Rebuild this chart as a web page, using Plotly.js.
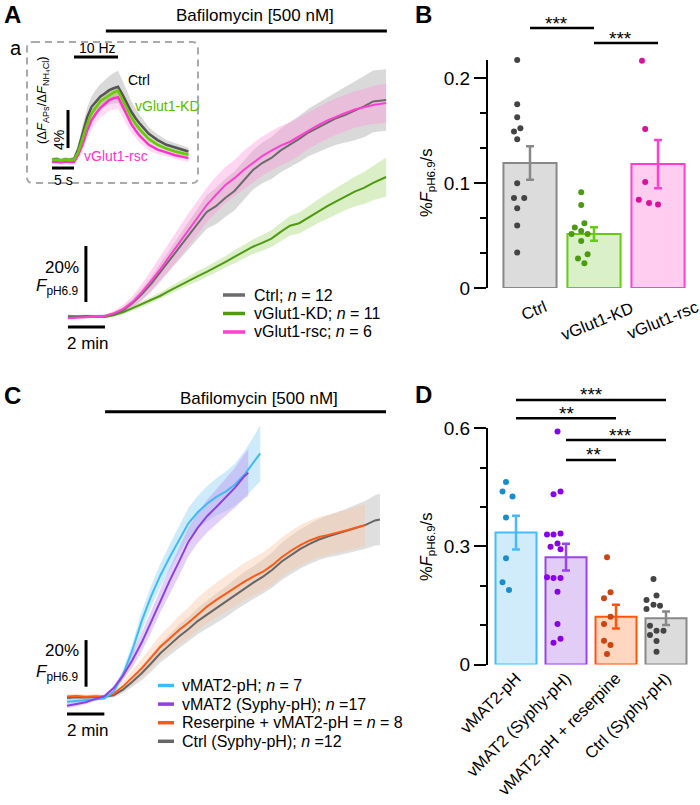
<!DOCTYPE html>
<html>
<head>
<meta charset="utf-8">
<script src="https://cdn.plot.ly/plotly-3.0.1.min.js"></script>
<style>
  body { margin: 0; background: #fff; }
  #fig { width: 700px; height: 805px; }
</style>
</head>
<body>
<div id="fig"></div>
<script>
// ---------- Panel A: bafilomycin traces (min, % F pH6.9) ----------
const tA = [0,0.5,1,1.5,2,2.5,3,3.5,4,4.5,5,5.5,6,6.5,7,7.5,8,8.5,9,9.5,10,10.5,11,11.5,12,12.5,13,13.5,14,14.5,15,15.5,16,16.5,17.2];
const ctrlA = [0,0.3,0.4,0.2,0.4,1.1,2.5,5,8.2,11.8,16.1,20.4,24.6,28.9,33.2,37.5,39.6,42.5,45,48.9,52.5,55,56.8,59.5,61.4,63.6,65.9,67.6,69.3,71,72.2,73.6,75.2,77,77.5];
const ctrlAsem = [0.5,0.5,0.5,0.5,0.5,0.7,1,1.5,2,2.5,3,3.8,4.5,5,5.5,6,6.5,6.8,7,7,7,7.2,7.5,7.8,8,8.2,8.5,8.8,9,9.5,10,10.5,11,11,11];
const kdA = [0.4,0.1,0,0.2,0,0.7,1.8,3.2,4.6,6.1,7.6,9.4,11.2,12.9,14.5,16.1,17.8,19.6,21.5,23.4,25.1,26.5,28,30.4,32.6,33.5,35.6,37.7,39.5,41.3,43.2,44.8,46.1,47.9,50];
const kdAsem = [0.5,0.5,0.5,0.5,0.5,0.6,0.8,0.9,1,1.1,1.2,1.4,1.5,1.6,1.8,1.9,2,2.1,2.3,2.5,2.6,2.8,3,3.2,3.5,3.7,4,4.2,4.5,4.8,5,5.3,5.7,6.2,7];
const rscA = [-0.4,-0.2,0,0.2,0.4,1.4,2.9,5.4,8.9,12.9,17.1,21.8,26.4,31.1,35.4,40,43.6,47.1,49.6,52.5,55,57.5,59.4,61.2,62.6,64.6,66.6,68.4,70.1,71.6,72.9,74.1,74.9,75.7,76.4];
const rscAsem = [0.5,0.5,0.5,0.5,0.5,0.8,1.5,2.2,3,3.8,4.5,5,5.5,5.8,6,6.2,6.5,6.5,6.5,6.8,7,7,7,7,7,6.8,6.5,6.5,6.5,6.5,6.5,6.5,6.5,6.8,7];
const legendA = ['Ctrl; <i>n</i> = 12', 'vGlut1-KD; <i>n</i> = 11', 'vGlut1-rsc; <i>n</i> = 6'];

// inset a: 10 Hz stimulation (s, %)
const tIn = [0,1,2,3,4,5,6,7,8,9,10,11,12,13,14,15,16,17,18,19,20,22,24,26,28,31];
const ctrlIn = [0,0.1,-0.05,0.05,0,0.1,1.2,3,4.5,5.6,6.2,6.7,7,7.35,7.55,7.7,6.9,6,5.1,4.4,3.8,2.75,2.1,1.6,1.3,0.9];
const ctrlInSem = [0.25,0.25,0.25,0.25,0.25,0.25,0.5,0.8,1,1.1,1.2,1.3,1.4,1.5,1.6,1.7,1.5,1.3,1.1,1,0.9,0.7,0.6,0.5,0.5,0.4];
const kdIn = [0,0.05,-0.05,0.05,0,0.05,0.9,2.4,3.8,4.9,5.6,6.2,6.5,6.8,7.1,7.3,6.4,5.4,4.5,3.8,3.2,2.2,1.6,1.2,0.9,0.55];
const kdInSem = [0.15,0.15,0.15,0.15,0.15,0.15,0.2,0.25,0.3,0.35,0.4,0.4,0.45,0.45,0.5,0.5,0.45,0.4,0.35,0.3,0.3,0.25,0.2,0.2,0.2,0.2];
const rscIn = [-0.2,-0.15,-0.25,-0.15,-0.2,-0.2,0.6,1.7,3.1,4.2,4.9,5.5,5.9,6.3,6.5,6.6,5.7,4.7,3.8,3.1,2.5,1.6,1.1,0.8,0.5,0.2];
const rscInSem = [0.3,0.3,0.3,0.3,0.3,0.3,0.5,0.7,0.8,0.9,1,1,1.1,1.1,1.2,1.2,1.1,1,0.9,0.8,0.7,0.6,0.5,0.4,0.4,0.4];

// ---------- Panel B ----------
const bCats = ['Ctrl', 'vGlut1-KD', 'vGlut1-rsc'];
const bMeans = [0.119, 0.0514, 0.118];
const bSem = [0.016, 0.0065, 0.023];
const bCtrlPts = [0.217,0.175,0.1625,0.149,0.152,0.1416,0.0997,0.0857,0.0857,0.0759,0.0594,0.0337];
const bKdPts = [0.0911,0.079,0.0616,0.0575,0.0543,0.0514,0.0514,0.0448,0.0322,0.028,0.0235];
const bRscPts = [0.2165,0.1514,0.101,0.084,0.081,0.0794];

// ---------- Panel C ----------
const tBlue = [0,0.5,1,1.5,2,2.5,3,3.5,4,4.5,5,5.5,6,6.5,7,7.5,8,8.5,9,9.5,10,10.35];
const vmatC = [-1.6,-1.2,-0.9,-0.6,-0.2,2.8,10,20.5,33,43.6,52.6,60.4,68,75,79.7,83.4,86.3,88.6,91.6,95.8,101.2,105];
const vmatCsem = [0.8,0.8,0.7,0.6,0.5,1,2,3,4,4.5,5,5.5,6,6.5,7,7.5,8,8.5,9,10,11,12];
const tPurple = [0,0.5,1,1.5,2,2.5,3,3.5,4,4.5,5,5.5,6,6.5,7,7.5,8,8.5,9,9.5,9.71];
const syphyC = [-3.3,-2.6,-1.8,-0.5,0.8,4.3,9.6,16.2,23.8,32.6,41.8,50.4,58.5,67,73,78,82,86.2,90.3,95.2,96.7];
const syphyCsem = [1,1,0.9,0.8,0.6,1,2,3,4,4.5,5,5.5,6,6.2,6.5,7,7.5,8,8.5,9.5,10];
const tOrange = [0,0.5,1,1.5,2,2.5,3,3.5,4,4.5,5,5.5,6,6.5,7,7.5,8,8.5,9,9.5,10,10.5,11,11.5,12,12.5,13,13.5,14,14.5,15,15.5,15.95];
const reserpC = [0.6,0.9,0.5,0.8,0.6,1.8,5,8.7,12.7,17.3,22,25.5,29.2,32.3,36,39.3,42.1,44.8,47.3,49.9,52.2,54.2,57,60.4,63.2,65.6,67.6,69.1,70,70.9,72,73.2,74.2];
const reserpCsem = [1,1,1,0.9,0.8,1.2,2,3,4,4.6,5,5.5,6,6.5,7,7.2,7.5,7.6,7.8,8,8,8.2,8.4,8.5,8.5,8.6,8.6,8.6,8.6,8.6,8.8,8.8,9];
const tGrayC = [0,0.5,1,1.5,2,2.5,3,3.5,4,4.5,5,5.5,6,6.5,7,7.5,8,8.5,9,9.5,10,10.5,11,11.5,12,12.5,13,13.5,14,14.5,15,15.5,16,16.5,16.76];
const ctrlC = [0,0.3,0.2,0.4,0.5,1.2,3.6,7,10.6,14.8,19.2,22.8,26.4,29.5,33,35.8,38.6,41.2,44.3,47.1,49.6,52.1,55,58.6,61.4,64,66.1,68,69.4,70.5,71.7,73,74.3,76.2,76.6];
const ctrlCsem = [1,1,0.9,0.8,0.6,1,1.5,2.2,3,3.5,4,4.5,5,5.3,5.6,6,6.2,6.5,6.8,7,7,7.3,7.6,8,8.2,8.4,8.6,8.8,9,9.3,9.6,10,10.3,10.8,11];
const legendC = ['vMAT2-pH; <i>n</i> = 7', 'vMAT2 (Syphy-pH); <i>n</i> =17',
                 'Reserpine + vMAT2-pH = <i>n</i> = 8', 'Ctrl (Syphy-pH); <i>n</i> =12'];

// ---------- Panel D ----------
const dCats = ['vMAT2-pH', 'vMAT2 (Syphy-pH)', 'vMAT2-pH + reserpine', 'Ctrl (Syphy-pH)'];
const dMeans = [0.335, 0.2726, 0.1216, 0.1174];
const dSem = [0.043, 0.034, 0.03, 0.017];
const dVmatPts = [0.4633,0.4394,0.4267,0.3733,0.27,0.209,0.1894];
const dSyphyPts = [0.592,0.4327,0.4394,0.33,0.33,0.3326,0.2988,0.3071,0.2929,0.2217,0.22,0.22,0.185,0.103,0.0657,0.0555];
const dReserpPts = [0.2726,0.1836,0.168,0.1216,0.103,0.0605,0.0496,0.0267];
const dCtrlPts = [0.2174,0.175,0.164,0.152,0.1495,0.141,0.0987,0.086,0.086,0.075,0.0597,0.0326];

// horizontal spread of the dots (category units), kept apart from the values
const bCtrlJit = [0,0,0,-0.05,0.05,0,0,-0.05,0.11,0,0,0];
const bKdJit = [0,0,0.05,-0.1,0,-0.15,0.1,0,0.1,-0.05,0.05];
const bRscJit = [-0.05,0,0,-0.1,0.06,0.2];
const dVmatJit = [0,-0.07,0.13,0,0,-0.07,0.06];
const dSyphyJit = [0.03,-0.05,0.09,-0.18,-0.05,0.09,-0.11,0.03,0.09,-0.18,-0.05,0.09,0.03,0.03,0.09,-0.05];
const dReserpJit = [0.02,0.09,-0.04,0.09,-0.04,-0.04,0.09,0.02];
const dCtrlJit = [-0.05,0.01,-0.19,-0.05,0.08,-0.19,-0.12,0.01,0.15,-0.12,0.01,0.01];

// ---------- helpers ----------
const W = 700, H = 805;
const FONT = 'Liberation Sans, Arial, sans-serif';
function px(x) { return x / W; }
function py(y) { return 1 - y / H; }

function band(t, m, s, color, xa, ya) {
    let up = m.map((v, i) => v + s[i]);
    let lo = m.map((v, i) => v - s[i]).reverse();
    return {
        x: t.concat(t.slice().reverse()), y: up.concat(lo),
        mode: 'lines', fill: 'toself', fillcolor: color, line: {width: 0},
        hoverinfo: 'skip', showlegend: false, xaxis: xa, yaxis: ya
    };
}

function trace(t, m, color, w, xa, ya) {
    return {x: t, y: m, mode: 'lines', line: {color: color, width: w},
            showlegend: false, xaxis: xa, yaxis: ya};
}

function bar(i, mean, sem, fill, edge, width, xa, ya) {
    return {
        type: 'bar', x: [i], y: [mean], width: width,
        marker: {color: fill, line: {color: edge, width: 2}},
        error_y: {type: 'data', array: [sem], color: edge, thickness: 2.5, width: 4},
        showlegend: false, xaxis: xa, yaxis: ya
    };
}

function dots(i, vals, jit, color, xa, ya) {
    return {
        type: 'scatter', mode: 'markers',
        x: vals.map((v, k) => i - 0.2 + jit[k]), y: vals,
        marker: {color: color, size: 6}, cliponaxis: false,
        showlegend: false, xaxis: xa, yaxis: ya
    };
}

let data = [
    // A
    band(tA, ctrlA, ctrlAsem, 'rgba(170,170,170,0.45)', 'x', 'y'),
    band(tA, kdA, kdAsem, 'rgba(150,210,90,0.35)', 'x', 'y'),
    band(tA, rscA, rscAsem, 'rgba(255,150,220,0.4)', 'x', 'y'),
    trace(tA, kdA, '#4f9a12', 2, 'x', 'y'),
    trace(tA, ctrlA, '#6b6b6b', 2, 'x', 'y'),
    trace(tA, rscA, '#ff3fcf', 2, 'x', 'y'),
    // inset
    band(tIn, ctrlIn, ctrlInSem, 'rgba(160,160,160,0.4)', 'x2', 'y2'),
    band(tIn, rscIn, rscInSem, 'rgba(255,150,220,0.35)', 'x2', 'y2'),
    band(tIn, kdIn, kdInSem, 'rgba(120,210,40,0.35)', 'x2', 'y2'),
    trace(tIn, ctrlIn, '#555555', 2.5, 'x2', 'y2'),
    trace(tIn, rscIn, '#ff33cc', 2.5, 'x2', 'y2'),
    trace(tIn, kdIn, '#66cc00', 2.5, 'x2', 'y2'),
    // B
    bar(0, bMeans[0], bSem[0], '#dcdcdc', '#888888', 0.83, 'x3', 'y3'),
    bar(1, bMeans[1], bSem[1], '#d9f0c8', '#66cc11', 0.83, 'x3', 'y3'),
    bar(2, bMeans[2], bSem[2], '#ffcdf0', '#ff40cc', 0.83, 'x3', 'y3'),
    dots(0, bCtrlPts, bCtrlJit, '#444444', 'x3', 'y3'),
    dots(1, bKdPts, bKdJit, '#4c9a10', 'x3', 'y3'),
    dots(2, bRscPts, bRscJit, '#dd1199', 'x3', 'y3'),
    // C
    band(tGrayC, ctrlC, ctrlCsem, 'rgba(175,175,175,0.4)', 'x4', 'y4'),
    band(tOrange, reserpC, reserpCsem, 'rgba(250,195,160,0.4)', 'x4', 'y4'),
    band(tBlue, vmatC, vmatCsem, 'rgba(130,205,245,0.4)', 'x4', 'y4'),
    band(tPurple, syphyC, syphyCsem, 'rgba(190,150,240,0.45)', 'x4', 'y4'),
    trace(tGrayC, ctrlC, '#666666', 2, 'x4', 'y4'),
    trace(tOrange, reserpC, '#ff5a14', 2, 'x4', 'y4'),
    trace(tBlue, vmatC, '#3dbcf5', 2, 'x4', 'y4'),
    trace(tPurple, syphyC, '#8f3fe6', 2, 'x4', 'y4'),
    // D
    bar(0, dMeans[0], dSem[0], '#d0ecfb', '#44bbff', 0.82, 'x5', 'y5'),
    bar(1, dMeans[1], dSem[1], '#e2cdf6', '#9944ee', 0.82, 'x5', 'y5'),
    bar(2, dMeans[2], dSem[2], '#ffd6bf', '#ff5511', 0.82, 'x5', 'y5'),
    bar(3, dMeans[3], dSem[3], '#dcdcdc', '#888888', 0.82, 'x5', 'y5'),
    dots(0, dVmatPts, dVmatJit, '#1a8ccc', 'x5', 'y5'),
    dots(1, dSyphyPts, dSyphyJit, '#8800ee', 'x5', 'y5'),
    dots(2, dReserpPts, dReserpJit, '#cc4410', 'x5', 'y5'),
    dots(3, dCtrlPts, dCtrlJit, '#444444', 'x5', 'y5')
];

// ---------- shapes & labels ----------
let shapes = [];
let ann = [];

function hline(xref, x0, x1, yPx, color, w) {
    shapes.push({type: 'line', xref: xref, yref: 'paper', x0: x0, x1: x1,
                 y0: py(yPx), y1: py(yPx), line: {color: color || 'black', width: w || 2.5}});
}
function label(xPx, yPx, text, size, opts) {
    ann.push(Object.assign({
        xref: 'paper', yref: 'paper', x: px(xPx), y: py(yPx), text: text,
        showarrow: false, xanchor: 'center', yanchor: 'middle',
        font: {family: FONT, size: size, color: 'black'}
    }, opts || {}));
}
function scaleBar(xref, yref, x0, y0, x1, y1) {
    shapes.push({type: 'line', xref: xref, yref: yref, x0: x0, y0: y0, x1: x1, y1: y1,
                 line: {color: 'black', width: 3}});
}

// panel letters
label(12, 0, '<b>A</b>', 24, {yanchor: 'top', borderpad: 0});
label(423, 0, '<b>B</b>', 24, {yanchor: 'top', borderpad: 0});
label(12, 396, '<b>C</b>', 24);
label(423, 395, '<b>D</b>', 24);

// bafilomycin bars
label(255, 15, 'Bafilomycin [500 nM]', 17);
hline('x', 2.05, 17.24, 31, 'black', 3);
label(259, 398, 'Bafilomycin [500 nM]', 17);
hline('x4', 2.04, 17.09, 411.7, 'black', 3);

// scale bars A: 20 % and 2 min
scaleBar('x', 'y', 0.97, 5.36, 0.97, 25.36);
scaleBar('x', 'y', 0, -3.57, 2, -3.57);
label(81, 267, '20%', 17, {xanchor: 'right'});
label(81, 287, '<i>F</i><sub>pH6.9</sub>', 17, {xanchor: 'right'});
label(88, 343, '2 min', 17);

// scale bars C
scaleBar('x4', 'y4', 1.02, 4.85, 1.02, 24.85);
scaleBar('x4', 'y4', 0, -6.87, 2, -6.87);
label(81, 650, '20%', 17, {xanchor: 'right'});
label(81, 673, '<i>F</i><sub>pH6.9</sub>', 17, {xanchor: 'right'});
label(88, 730, '2 min', 17);

// inset box, scale bars and labels
let bx0 = 27, by0 = 42, bx1 = 198, by1 = 183, r = 6;
function P(x, y) { return px(x).toFixed(5) + ',' + py(y).toFixed(5); }
shapes.push({
    type: 'path', xref: 'paper', yref: 'paper',
    path: 'M' + P(bx0 + r, by0) + ' L' + P(bx1 - r, by0) + ' Q' + P(bx1, by0) + ' ' + P(bx1, by0 + r) +
          ' L' + P(bx1, by1 - r) + ' Q' + P(bx1, by1) + ' ' + P(bx1 - r, by1) +
          ' L' + P(bx0 + r, by1) + ' Q' + P(bx0, by1) + ' ' + P(bx0, by1 - r) +
          ' L' + P(bx0, by0 + r) + ' Q' + P(bx0, by0) + ' ' + P(bx0 + r, by0) + ' Z',
    line: {color: '#aaaaaa', width: 2, dash: '7px,5px'}
});
scaleBar('x2', 'y2', 3.64, 1.26, 3.64, 5.26);
scaleBar('x2', 'y2', 0, -0.84, 5, -0.84);
scaleBar('x2', 'y2', 5, 10.84, 15, 10.84);
label(16, 48, 'a', 20);
label(97, 48, '10 Hz', 14);
label(63, 180, '5 s', 14);
label(59, 140, '4%', 14, {textangle: -90});
label(42, 100, '(Δ<i>F</i><sub>APs</sub>/Δ<i>F</i><sub>NH₄Cl</sub>)', 13, {textangle: -90});
label(139, 80, 'Ctrl', 14);
label(167, 106, 'vGlut1-KD', 14, {font: {family: FONT, size: 14, color: '#55bb00'}});
label(116, 156, 'vGlut1-rsc', 14, {font: {family: FONT, size: 14, color: '#ff33cc'}});

// legends
const colA = ['#6b6b6b', '#4f9a12', '#ff3fcf'];
legendA.forEach((txt, i) => {
    let y = 295 + i * 18.5;
    shapes.push({type: 'line', xref: 'paper', yref: 'paper', x0: px(223), x1: px(245),
                 y0: py(y), y1: py(y), line: {color: colA[i], width: 3.5}});
    label(252, y, txt, 16, {xanchor: 'left'});
});
const colC = ['#3dbcf5', '#8f3fe6', '#ff5a14', '#666666'];
legendC.forEach((txt, i) => {
    let y = 685.5 + i * 18.6;
    shapes.push({type: 'line', xref: 'paper', yref: 'paper', x0: px(158), x1: px(174),
                 y0: py(y), y1: py(y), line: {color: colC[i], width: 3.5}});
    label(180, y, txt, 16, {xanchor: 'left'});
});

// B category labels and y titles
const bLabelPos = [[534, 310], [597, 321], [662, 320]];
bCats.forEach((c, i) => label(bLabelPos[i][0], bLabelPos[i][1], c, 16.5, {textangle: -22}));
label(427, 183, '%<i>F</i><sub>pH6.9</sub>/s', 16.5, {textangle: -90});
label(427, 547, '%<i>F</i><sub>pH6.9</sub>/s', 16.5, {textangle: -90});

// significance
function sig(xref, a, b, yPx, stars, xs) {
    hline(xref, a, b, yPx);
    ann.push({xref: xref, yref: 'paper', x: (a + b) / 2 + (xs || 0), y: py(yPx - 5), text: stars,
              showarrow: false, xanchor: 'center', yanchor: 'middle',
              font: {family: FONT, size: 19, color: 'black'}});
}
sig('x3', 0, 1, 28, '***', -0.08);
sig('x3', 1, 2, 43, '***', -0.08);
sig('x5', 0, 3, 400, '***');
sig('x5', 0, 2, 418.3, '**');
sig('x5', 1, 3, 440, '***', 0.08);
sig('x5', 1, 2, 460, '**', 0.05);

const hidden = {visible: false};
const yBar = {
    showline: true, linecolor: 'black', linewidth: 2, ticks: 'outside', ticklen: 12,
    tickwidth: 2, tickcolor: 'black', showgrid: false, zeroline: false, tick0: 0,
    tickfont: {family: FONT, size: 19, color: 'black'}
};

let layout = {
    width: W, height: H,
    margin: {l: 0, r: 0, t: 0, b: 0},
    paper_bgcolor: 'white', plot_bgcolor: 'rgba(0,0,0,0)',
    showlegend: false, barmode: 'overlay',
    font: {family: FONT, color: 'black'},
    xaxis: Object.assign({domain: [px(60), px(390)], range: [-0.43, 17.41]}, hidden),
    yaxis: Object.assign({domain: [py(340), py(60)], range: [-8.21, 91.79]}, hidden),
    xaxis2: Object.assign({domain: [px(45), px(195)], range: [-1.59, 32.5], anchor: 'y2'}, hidden),
    yaxis2: Object.assign({domain: [py(180), py(45)], range: [-2.1, 12.1], anchor: 'x2'}, hidden),
    xaxis3: Object.assign({domain: [px(488), px(700)], range: [-0.656, 2.656], anchor: 'y3'}, hidden),
    yaxis3: Object.assign({}, yBar, {
        domain: [py(288), py(60)], range: [0, 0.2171], anchor: 'x3', dtick: 0.1,
        minor: {dtick: 0.1 / 3, ticks: 'outside', ticklen: 6, tickwidth: 2, tickcolor: 'black', showgrid: false}
    }),
    xaxis4: Object.assign({domain: [px(60), px(395)], range: [-0.375, 17.57], anchor: 'y4'}, hidden),
    yaxis4: Object.assign({domain: [py(720), py(420)], range: [-9.44, 119.3], anchor: 'x4'}, hidden),
    xaxis5: {
        domain: [px(488), px(700)], range: [-0.56, 3.68], anchor: 'y5',
        tickvals: [0, 1, 2, 3], ticktext: dCats, tickangle: -45, ticks: '',
        showline: false, showgrid: false, zeroline: false,
        tickfont: {family: FONT, size: 16.5, color: 'black'}
    },
    yaxis5: Object.assign({}, yBar, {
        domain: [py(664.5), py(428.3)], range: [0, 0.6], anchor: 'x5', dtick: 0.3,
        minor: {dtick: 0.1, ticks: 'outside', ticklen: 6, tickwidth: 2, tickcolor: 'black', showgrid: false}
    }),
    shapes: shapes,
    annotations: ann
};

Plotly.newPlot('fig', data, layout, {staticPlot: true});
</script>
</body>
</html>
